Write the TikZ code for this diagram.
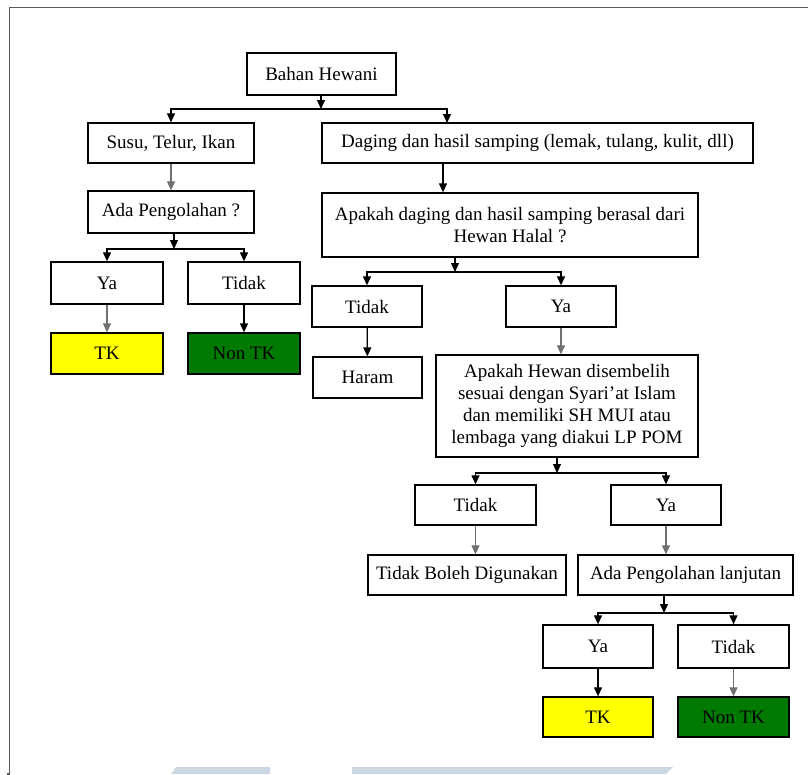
\documentclass[tikz,border=0pt]{standalone}
\usepackage{fontspec}
\setmainfont{Liberation Serif}
\usetikzlibrary{arrows.meta}
\definecolor{tkyellow}{HTML}{FFFF00}
\definecolor{tkgreen}{HTML}{007A00}
\definecolor{wmblue}{HTML}{CBD7E3}
\definecolor{framegray}{HTML}{5A5A5A}
\definecolor{stemgray}{HTML}{707070}

\begin{document}
\begin{tikzpicture}[x=1pt,y=-1pt,
  box/.style={draw=black, line width=1.3pt, align=center, inner sep=0pt,
    font=\fontsize{19}{21.7}\selectfont},
  yes/.style={box, fill=tkyellow},
  nope/.style={box, fill=tkgreen},
  link/.style={line width=1.2pt, draw=black},
  arr/.style={link, -{Triangle[width=8pt,length=9pt]}},
  garr/.style={arr, draw=stemgray}
]
\useasboundingbox (0,0) rectangle (808,774);

% page frame
\draw[framegray, line width=1.6pt] (7,774) -- (9.5,774) -- (9.5,7.5) -- (808,7.5);

% faint bars along the bottom edge
\fill[wmblue] (176,767) -- (270,767) -- (270,774) -- (171,774) -- cycle;
\fill[wmblue] (352,767) -- (673,767) -- (666,774) -- (352,774) -- cycle;

% boxes
\node[box, minimum width=149pt, minimum height=42pt] (bahan) at (321.5,74) {Bahan Hewani};
\node[box, minimum width=166pt, minimum height=40pt] (susu) at (171,143) {Susu, Telur, Ikan};
\node[box, minimum width=431pt, minimum height=40pt] (daging) at (537.5,143) {Daging dan hasil samping (lemak, tulang, kulit, dll)};
\node[box, minimum width=166pt, minimum height=42pt] (ada) at (171,212) {Ada Pengolahan ?};
\node[box, minimum width=112pt, minimum height=42pt] (ya1) at (107,283) {Ya};
\node[box, minimum width=112pt, minimum height=42pt] (tidak1) at (244,283) {Tidak};
\node[yes, minimum width=112pt, minimum height=41pt] (tk1) at (107,353.5) {TK};
\node[nope, minimum width=112pt, minimum height=41pt] (nontk1) at (244,353.5) {Non TK};

\node[box, minimum width=376pt, minimum height=64pt] (halal) at (510,225)
  {Apakah daging dan hasil samping berasal dari\\Hewan Halal ?};
\node[box, minimum width=110pt, minimum height=41pt] (tidak2) at (367,306.5) {Tidak};
\node[box, minimum width=110pt, minimum height=41pt] (ya2) at (561,306.5) {Ya};
\node[box, minimum width=109pt, minimum height=41pt] (haram) at (367.5,377.5) {Haram};
\node[box, minimum width=262pt, minimum height=102pt] (sembelih) at (567,406)
  {Apakah Hewan disembelih\\sesuai dengan Syari'at Islam\\dan memiliki SH MUI atau\\lembaga yang diakui LP POM};

\node[box, minimum width=121pt, minimum height=40pt] (tidak3) at (475.5,505) {Tidak};
\node[box, minimum width=110pt, minimum height=40pt] (ya3) at (666,505) {Ya};
\node[box, minimum width=198pt, minimum height=40pt] (tbd) at (467,575) {Tidak Boleh Digunakan};
\node[box, minimum width=215pt, minimum height=40pt] (lanjut) at (685.5,575) {Ada Pengolahan lanjutan};
\node[box, minimum width=110pt, minimum height=43pt] (ya4) at (598,646.5) {Ya};
\node[box, minimum width=111pt, minimum height=43pt] (tidak4) at (733.5,646.5) {Tidak};
\node[yes, minimum width=110pt, minimum height=40pt] (tk2) at (598,717) {TK};
\node[nope, minimum width=111pt, minimum height=40pt] (nontk2) at (733.5,717) {Non TK};

% junction points of the split connectors
\coordinate (j1) at (321,109);
\coordinate (dgin) at (447,123);
\coordinate (dgout) at (443,163);
\coordinate (j2) at (174,249);
\coordinate (j3) at (455,272);
\coordinate (j4) at (557,473);
\coordinate (j5) at (664,613);

% Bahan Hewani split
\draw[arr] (bahan.south -| j1) -- (j1);
\draw[arr] (j1) -| (susu.north);
\draw[arr] (j1) -| (dgin);

% left branch
\draw[garr] (susu) -- (ada);
\draw[arr] (ada.south -| j2) -- (j2);
\draw[arr] (j2) -| (ya1.north);
\draw[arr] (j2) -| (tidak1.north);
\draw[garr] (ya1) -- (tk1);
\draw[arr] (tidak1) -- (nontk1);

% right branch
\draw[arr] (dgout) -- (dgout |- halal.north);
\draw[arr] (halal.south -| j3) -- (j3);
\draw[arr] (j3) -| (tidak2.north);
\draw[arr] (j3) -| (ya2.north);
\draw[arr] (tidak2) -- (haram);
\draw[garr] (ya2) -- (ya2 |- sembelih.north);

\draw[arr] (sembelih.south -| j4) -- (j4);
\draw[arr] (j4) -| (tidak3.north);
\draw[arr] (j4) -| (ya3.north);
\draw[garr] (tidak3.south) -- (tidak3.south |- tbd.north);
\draw[garr] (ya3) -- (ya3 |- lanjut.north);

\draw[arr] (lanjut.south -| j5) -- (j5);
\draw[arr] (j5) -| (ya4.north);
\draw[arr] (j5) -| (tidak4.north);
\draw[arr] (ya4) -- (tk2);
\draw[garr] (tidak4) -- (nontk2);
\end{tikzpicture}
\end{document}
